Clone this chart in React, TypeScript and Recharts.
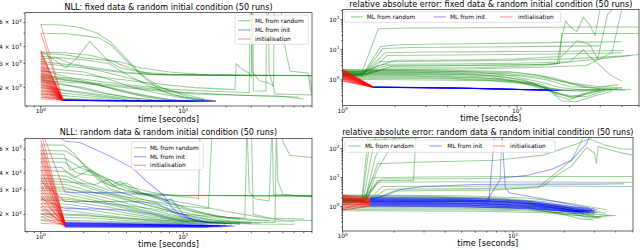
import React from 'react';
import { LineChart, Line, XAxis, YAxis } from 'recharts';

type Pt = [number, number];

const FONT = 'DejaVu Sans, Liberation Sans, sans-serif';

// ---------------- text ----------------
const titles = [
  'NLL: fixed data & random initial condition (50 runs)',
  'relative absolute error: fixed data & random initial condition (50 runs)',
  'NLL: random data & random initial condition (50 runs)',
  'relative absolute error: random data & random initial condition (50 runs)',
];
const xAxisLabel = 'time [seconds]';
const legendLabels = ['ML from random', 'ML from init', 'initialisation'];
const seriesColors = ['green', 'blue', 'red'];

// ---------------- ticks ----------------
const xTicksNLL = [0.8, 0.9, 1, 2, 3, 4, 5, 6, 7, 8, 9, 10, 20, 30, 40, 50, 60, 70, 80];
const xTicksErr = [1, 2, 3, 4, 5, 6, 7, 8, 9, 10, 20, 30, 40, 50];
const yTicksNLL = [2000, 3000, 4000, 5000, 6000, 7000];
const yTicksErr = [0.2, 0.3, 0.4, 0.5, 0.6, 0.7, 0.8, 0.9, 1, 2, 3, 4, 5, 6, 7, 8, 9, 10, 20, 30, 40, 50, 60, 70, 80, 90, 100, 200];
const majorTickValues = [1, 10, 100];
const xTickLabels: Record<string, [string, string]> = { '1': ['10', '0'], '10': ['10', '1'] };
const yTickLabelsNLL: Record<string, [string, string]> = {
  '2000': ['2 × 10', '3'], '3000': ['3 × 10', '3'], '4000': ['4 × 10', '3'], '6000': ['6 × 10', '3'],
};
const yTickLabelsErr: Record<string, [string, string]> = { '1': ['10', '0'], '10': ['10', '1'], '100': ['10', '2'] };

// ================= Panel 1: NLL, fixed data =================
const p1InitTime: Pt = [1, 1.43];
const p1InitStart = [5800, 5000, 3700, 3650, 3550, 3400, 3250, 3100, 3000, 2900, 2800, 2700, 2650, 2550, 2500, 2450, 2400, 2350, 2300, 2250, 2200, 2150, 2100, 2050, 2000, 1950, 1900, 1850, 1800, 1750, 1700, 1650];
const p1InitEnd = [1625, 1615, 1620, 1630, 1612, 1620, 1626, 1616, 1622, 1630, 1610, 1620, 1625, 1614, 1620, 1632, 1610, 1618, 1625, 1615, 1620, 1628, 1612, 1620, 1624, 1616, 1620, 1630, 1610, 1620, 1625, 1615];
const p1Green: Pt[][] = [
  [[1, 5800], [1.4, 5750], [1.9, 5500], [2.5, 5000], [3.1, 4300], [4.3, 3000], [5.5, 2300], [7, 1900], [10, 1700], [14, 1610]],
  [[1, 5000], [1.5, 4950], [2, 4800], [2.6, 4600], [3.1, 4100], [3.8, 3300], [5, 2500], [7, 2000], [11, 1700], [16, 1605]],
  [[1, 3700], [1.5, 2800], [1.8, 3300], [2.2, 4350], [2.5, 3800], [3, 3100], [3.6, 2800], [5, 2600], [8, 2500], [15, 2460], [80, 2450]],
  [[1, 3650], [1.5, 3600], [2.2, 3450], [3, 3200], [4.5, 2700], [6, 2500], [10, 2470], [30, 2450], [80, 2445]],
  [[1, 3550], [1.4, 3500], [2, 3300], [3.5, 3100], [5, 2800], [8, 2600], [13, 2500], [40, 2460]],
  [[1, 3400], [2, 3200], [3, 3000], [4, 2500], [5.5, 2100], [8, 1800], [12, 1650], [17, 1600]],
  [[1, 3250], [1.3, 3300], [1.6, 3000], [2.4, 2800], [3.8, 2600], [6, 2500], [12, 2470], [25, 2455]],
  [[1, 3100], [1.8, 2900], [2.8, 2600], [4.5, 2300], [7, 2000], [10, 1800], [14, 1650]],
  [[1, 3000], [1.6, 2850], [2.6, 2700], [4, 2550], [7, 2490], [20, 2460], [77, 2450], [80, 1900]],
  [[1, 2800], [2, 2600], [3, 2300], [4.5, 2000], [7, 1800], [11, 1650], [15, 1600]],
  [[1, 2700], [1.5, 2400], [2.2, 2200], [3.5, 1900], [5.5, 1700], [8, 1620]],
  [[1, 2550], [1.4, 2300], [2.5, 2100], [3.5, 1950], [5, 1780], [8, 1640], [12, 1600]],
  [[1, 2400], [1.6, 2300], [3, 2000], [4.5, 1800], [6.5, 1680], [9, 1610]],
  [[1, 2300], [1.5, 2100], [2.5, 1850], [4, 1700], [6, 1630]],
  [[1, 2200], [2, 2000], [3, 1800], [4.5, 1680], [7, 1610]],
  [[1, 2100], [1.5, 1900], [2.5, 1750], [4, 1640]],
  [[1, 2000], [2, 1850], [3.5, 1700], [5, 1630]],
  [[1, 1900], [1.8, 1780], [3, 1680], [4.5, 1610]],
  [[1, 1800], [2, 1700], [3.5, 1620]],
  [[1, 1700], [2.2, 1640], [3.5, 1600]],
  [[1, 2650], [1.6, 2550], [3, 2350], [6, 2150], [12, 2000], [20, 1950], [23, 1940], [23.5, 3000], [25, 2800], [29, 2550], [30, 2400], [30.2, 8000], [30.8, 8000], [31, 1900], [38, 1880], [38.5, 9000], [39.5, 9000], [40, 2600], [43, 2000], [44, 1800], [60, 1780], [80, 1770]],
  [[1, 2450], [2, 2300], [4, 2100], [8, 1950], [15, 1880], [25, 1850], [29, 1840], [29.5, 9000], [30, 9000], [30.5, 2600], [34, 2250], [40, 2150], [43, 2050], [43.5, 9000], [48, 9000], [50, 5000], [53, 3500], [56, 2650], [75, 2550], [78, 1900], [80, 1800]],
  [[1, 2350], [2, 2200], [5, 2000], [10, 1850], [20, 1780], [35, 1740], [50, 1720], [70, 1650]],
  [[1, 2250], [2, 2150], [5, 1950], [12, 1800], [25, 1760], [45, 1740], [65, 1700]],
];
const p1Blue: Pt[][] = [
  [[1.43, 1620], [3, 1605], [6, 1598], [10, 1595], [17, 1592]],
  [[1.45, 1615], [2.5, 1605], [5, 1600], [9, 1596]],
  [[1.42, 1625], [4, 1604], [8, 1597], [14, 1594]],
  [[1.44, 1618], [3, 1608], [6, 1600]],
  [[1.46, 1612], [5, 1598], [12, 1593], [16, 1592]],
  [[1.43, 1622], [2, 1612], [4, 1602], [7, 1597], [11, 1594]],
  [[1.44, 1616], [3.5, 1603], [7, 1598], [13, 1594]],
  [[1.42, 1628], [2.5, 1610], [5, 1601], [10, 1596], [15, 1593]],
  [[1.45, 1620], [4, 1602], [9, 1596], [17, 1592]],
  [[1.43, 1618], [3, 1606], [6.5, 1599], [12, 1594]],
  [[1.46, 1614], [2.2, 1608], [4.5, 1601], [8, 1597]],
];

// ================= Panel 2: rel. error, fixed data =================
const p2InitTime: Pt = [1, 1.5];
const p2InitStart = [2.3, 2.2, 2.1, 2.05, 2.0, 1.9, 1.85, 1.8, 1.7, 1.65, 1.6, 1.55, 1.5, 1.45, 1.4, 1.35, 1.3, 1.25, 1.2, 1.15, 1.1, 1.05, 1.0, 0.95, 0.9];
const p2InitEnd = [0.58, 0.57, 0.575, 0.57, 0.58, 0.565, 0.57, 0.575, 0.57, 0.58, 0.57, 0.565, 0.57, 0.575, 0.58, 0.57, 0.565, 0.57, 0.575, 0.57, 0.58, 0.57, 0.565, 0.57, 0.575];
const p2Green: Pt[][] = [
  [[1, 1.6], [1.28, 1.6], [1.6, 50], [2.5, 53], [6, 54], [15, 56], [25, 57], [50, 57]],
  [[1, 1.5], [1.3, 1.5], [1.65, 13], [2.2, 15], [5, 16], [12, 17], [20, 18], [40, 18.5]],
  [[1, 1.4], [1.3, 1.45], [1.7, 11], [2.5, 12], [6, 12.5], [15, 13], [30, 13.5]],
  [[1, 1.7], [1.32, 1.7], [1.75, 8], [3, 8.5], [8, 8.7], [20, 9], [41, 9.5]],
  [[1, 1.3], [1.35, 1.35], [1.8, 6.5], [4, 6.7], [10, 7], [25, 7.5], [40, 8]],
  [[1, 1.5], [1.3, 1.5], [1.6, 4], [3, 4.2], [8, 4.4], [20, 5], [45, 6.5]],
  [[1, 1.8], [1.3, 1.8], [1.7, 3.3], [4, 3.4], [10, 3.6], [20, 4], [30, 5], [50, 7]],
  [[1, 1.6], [1.35, 1.6], [1.9, 2.8], [5, 3], [12, 3.2], [17, 3.5], [18, 25], [19, 90], [20, 60], [22, 40], [24, 120], [26, 70], [28, 30], [30, 250], [32, 250]],
  [[1, 1.7], [1.3, 1.7], [1.8, 3], [5, 3.1], [15, 3.3], [17.5, 3.5], [18, 35], [30, 35], [50, 35]],
  [[1, 1.5], [1.3, 1.5], [1.8, 2.5], [6, 2.6], [14, 3], [20, 4], [24, 10], [26, 6], [30, 3], [34, 1.5], [40, 0.9]],
  [[1, 1.9], [1.3, 1.9], [2, 4.5], [5, 4.6], [10, 5], [18, 6], [22, 20], [26, 15], [29, 5], [33, 150], [36, 250]],
  [[1, 1.4], [1.3, 1.4], [1.7, 2.2], [5, 2.3], [12, 2.6], [25, 3], [35, 8], [40, 250]],
  [[1, 2.1], [3, 2.0], [6, 1.8], [9, 1.4], [13, 0.9], [18, 0.55], [25, 0.45], [35, 0.48]],
  [[1, 1.9], [2.5, 1.8], [5, 1.65], [9, 1.2], [14, 0.7], [17, 0.3], [20, 0.22], [24, 0.35], [30, 0.5]],
  [[1, 1.7], [3, 1.6], [7, 1.4], [11, 1.0], [15, 0.5], [18, 0.2], [22, 0.19], [28, 0.3], [35, 0.42]],
  [[1, 1.55], [3, 1.5], [7, 1.25], [12, 0.8], [16, 0.4], [20, 0.28], [26, 0.35], [32, 0.5]],
  [[1, 1.45], [2.5, 1.4], [6, 1.2], [10, 0.9], [14, 0.55], [18, 0.45], [26, 0.48], [38, 0.52]],
  [[1, 1.35], [3, 1.3], [8, 1.1], [13, 0.7], [17, 0.35], [21, 0.25], [27, 0.4], [40, 0.5]],
  [[1, 1.25], [3, 1.2], [8, 1.0], [12, 0.75], [16, 0.5], [22, 0.42], [30, 0.45]],
  [[1, 1.15], [4, 1.1], [9, 0.9], [14, 0.6], [19, 0.45], [28, 0.5], [45, 0.48]],
  [[1, 1.05], [3, 1.0], [7, 0.95], [11, 0.75], [15, 0.45], [20, 0.3], [25, 0.28], [32, 0.45]],
  [[1, 1.6], [4, 1.55], [10, 1.4], [15, 1.0], [20, 0.6], [28, 0.55], [38, 0.7]],
  [[1, 1.8], [4, 1.75], [9, 1.6], [14, 1.2], [20, 0.8], [30, 0.6], [40, 0.55]],
  [[1, 2.2], [4, 2.1], [9, 1.9], [13, 1.5], [18, 0.9], [25, 0.55]],
  [[1, 2.0], [5, 1.9], [10, 1.7], [16, 1.2], [22, 0.7], [30, 0.5], [42, 0.45]],
];
const p2Blue: Pt[][] = [
  [[1.5, 0.58], [3, 0.55], [6, 0.52], [10, 0.48], [17.6, 0.45]],
  [[1.5, 0.57], [4, 0.54], [8, 0.5], [14, 0.46]],
  [[1.5, 0.575], [5, 0.53], [12, 0.47], [16, 0.455]],
  [[1.5, 0.58], [2.5, 0.565], [5, 0.53], [9, 0.49], [15, 0.46]],
  [[1.5, 0.57], [3.5, 0.55], [7, 0.51], [12, 0.475], [17, 0.45]],
  [[1.5, 0.585], [3, 0.56], [6, 0.525], [11, 0.48], [16, 0.46]],
  [[1.5, 0.575], [4.5, 0.54], [9, 0.495], [13, 0.47]],
  [[1.5, 0.58], [2.2, 0.57], [5.5, 0.53], [10, 0.485], [17, 0.455]],
  [[1.5, 0.57], [3, 0.555], [7.5, 0.505], [14, 0.465], [18, 0.45]],
  [[1.5, 0.565], [4, 0.545], [8.5, 0.5], [15, 0.46]],
];

// ================= Panel 3: NLL, random data =================
const p3InitTime: Pt = [1, 1.48];
const p3InitStart = [9000, 8000, 6980, 6410, 5870, 5550, 5140, 4840, 4450, 4200, 3870, 3660, 3360, 3180, 3000, 2840, 2690, 2540, 2400, 2270, 2150, 2030, 1920, 1815, 1715, 8500, 3500, 2600];
const p3InitEnd = [6840, 1700, 1690, 1740, 1700, 1650, 1710, 1680, 1620, 1700, 1690, 1660, 1720, 1690, 1710, 1640, 1690, 1700, 1610, 1680, 1730, 1690, 1660, 1680, 1690, 2900, 2480, 2200];
const p3Green: Pt[][] = [
  [[1, 6410], [1.45, 6400], [1.7, 5600], [2, 4600], [2.4, 3900], [3, 3300], [4, 2950], [6, 2780], [10, 2740], [30, 2730], [80, 2720]],
  [[1, 5870], [1.5, 5800], [1.8, 5100], [2.2, 4300], [2.8, 3600], [3.5, 3100], [5, 2850], [9, 2760], [25, 2740], [80, 2730]],
  [[1, 5550], [1.45, 5500], [1.6, 4200], [2, 4500], [2.6, 3500], [3.2, 3200], [4, 3400], [5, 2900], [8, 2400], [12, 2100], [20, 1900], [40, 1800]],
  [[1, 5140], [1.48, 5100], [1.9, 4400], [2.3, 4000], [2.8, 3700], [3.2, 3300], [3.6, 3500], [4.5, 3000], [7, 2600], [11, 2200], [18, 1900], [30, 1800], [60, 1780]],
  [[1, 4840], [1.48, 4800], [1.8, 4000], [2.5, 3800], [3, 3100], [5, 2600], [8, 2300], [14, 2000], [25, 1850]],
  [[1, 4450], [1.4, 4400], [1.7, 3700], [2.2, 4200], [2.7, 3800], [3.5, 3300], [5, 2800], [7, 2600], [12, 2350], [20, 2100], [35, 1900], [50, 1820], [80, 1800]],
  [[1, 4200], [1.5, 4100], [2, 3500], [3, 3000], [4, 2800], [6, 2760], [15, 2740], [50, 2720], [80, 2715]],
  [[1, 3870], [1.5, 3800], [2, 3300], [3, 2900], [5, 2500], [8, 2200], [13, 1950], [20, 1800], [30, 1750]],
  [[1, 3660], [1.5, 3600], [2.2, 3100], [3.5, 2700], [6, 2300], [10, 2000], [16, 1820], [25, 1740]],
  [[1, 3360], [1.5, 3300], [2.5, 2850], [4, 2550], [7, 2200], [12, 1900], [20, 1760], [35, 1720]],
  [[1, 3180], [1.48, 3150], [2.2, 2800], [3.5, 2500], [6, 2150], [10, 1900], [16, 1780], [30, 1710]],
  [[1, 3000], [1.5, 2950], [2.5, 2600], [4, 2300], [7, 2000], [12, 1800], [20, 1720]],
  [[1, 2840], [1.5, 2800], [2.5, 2500], [4.5, 2200], [8, 1900], [14, 1760], [25, 1700]],
  [[1, 2690], [1.5, 2650], [3, 2350], [5, 2100], [9, 1850], [15, 1740], [30, 1700], [60, 1690]],
  [[1, 2540], [1.5, 2500], [3, 2250], [6, 1950], [10, 1800], [18, 1720]],
  [[1, 2400], [1.5, 2380], [3, 2150], [6, 1900], [12, 1760], [25, 1700]],
  [[1, 2270], [1.6, 2250], [3.5, 2000], [7, 1820], [13, 1730], [20, 1700]],
  [[1, 2150], [1.5, 2130], [3, 1950], [6, 1800], [12, 1720]],
  [[1, 2030], [2, 1990], [4, 1850], [8, 1750], [15, 1700]],
  [[1, 1920], [2, 1890], [4, 1800], [8, 1730], [14, 1690]],
  [[1, 1815], [2.5, 1790], [5, 1740], [10, 1700]],
  [[1, 3500], [1.5, 3450], [2.4, 3300], [3, 3600], [4, 3200], [6, 2900], [9, 2700], [12, 2650], [12.8, 2600], [13.1, 9000], [48, 9000], [50, 6800], [56, 5400], [80, 5200]],
  [[1, 3100], [1.5, 3050], [3, 2800], [6, 2500], [10, 2300], [15, 2200], [16, 9000], [30, 9000], [31, 2000], [40, 1880], [70, 1850]],
  [[1, 2600], [1.5, 2580], [3, 2400], [6, 2200], [10, 2000], [20, 1900], [27, 1880], [28, 9000], [29, 2900], [32, 2600], [40, 2500], [42, 9000], [43, 2800], [80, 2700]],
  [[1, 2000], [2, 1950], [5, 1850], [10, 1780], [20, 1750], [44, 1740], [45, 9000], [46, 3500], [50, 2800], [60, 2750], [80, 2720]],
];
const p3Blue: Pt[][] = [
  [[1.48, 6840], [1.9, 6660], [3.06, 5320], [4.44, 4330], [5.5, 3500], [7.2, 2780], [8.4, 2220], [9.5, 2000], [11, 1870], [15, 1760], [22, 1700]],
  [[1.48, 2900], [2.5, 2880], [4, 2870], [5.5, 2800], [7, 2650], [7.5, 2500], [8.2, 2600], [9, 2300], [10, 2000], [12, 1800], [16, 1720]],
  [[1.48, 2480], [3, 2480], [5, 2470], [6.5, 2400], [8, 2150], [9.5, 1950], [11, 1850], [14, 1760]],
  [[1.48, 2200], [2.5, 2190], [4, 2150], [6, 2000], [8, 1850], [11, 1760]],
  [[1.48, 1740], [4, 1700], [8, 1670], [14, 1655], [22, 1650]],
  [[1.48, 1720], [5, 1690], [10, 1665], [18, 1652]],
  [[1.48, 1700], [3, 1685], [7, 1668], [12, 1658], [20, 1648]],
  [[1.48, 1680], [4, 1666], [9, 1655], [16, 1645]],
  [[1.48, 1660], [6, 1648], [13, 1640], [21, 1636]],
  [[1.48, 1640], [3, 1636], [6, 1632], [10, 1628], [16, 1625]],
  [[1.48, 1620], [5, 1618], [11, 1616], [19, 1615]],
  [[1.48, 1690], [3, 1680], [6, 1665], [10, 1655], [16, 1648]],
  [[1.48, 1730], [3, 1710], [7, 1680], [13, 1660], [20, 1650]],
  [[1.48, 1710], [4, 1690], [9, 1668], [17, 1655]],
  [[1.48, 1670], [3.5, 1660], [8, 1650], [15, 1642], [23, 1640]],
  [[1.48, 1650], [5, 1642], [10, 1636], [18, 1632]],
  [[1.48, 1630], [4, 1626], [9, 1622], [14, 1620]],
  [[1.48, 1610], [3, 1609], [8, 1607], [15, 1606]],
  [[1.48, 1760], [3, 1740], [6, 1710], [11, 1680], [18, 1660]],
];

// ================= Panel 4: rel. error, random data =================
const p4InitTime: Pt = [1, 1.45];
const p4InitStart = [2.5, 2.4, 2.3, 2.2, 2.1, 2.0, 1.9, 1.8, 1.75, 1.7, 1.6, 1.5, 1.4, 1.3, 1.2, 1.1, 1.0, 0.9, 0.8, 0.75, 2.0, 1.2, 0.85, 2.3];
const p4InitEnd = [2.1, 2.0, 1.9, 1.85, 1.75, 1.7, 1.6, 1.55, 1.5, 1.45, 1.4, 1.35, 1.3, 1.25, 1.2, 1.15, 1.1, 1.05, 1.0, 1.1, 1.2, 1.8, 1.5, 1.3];
const p4Green: Pt[][] = [
  [[1, 1.9], [1.3, 1.9], [1.42, 400]],
  [[1, 1.7], [1.32, 1.7], [1.5, 100], [1.6, 400]],
  [[1, 1.6], [1.35, 1.65], [1.55, 50], [1.7, 150], [1.9, 400]],
  [[1, 1.8], [1.3, 1.8], [1.45, 200], [2, 220], [2.8, 240], [3, 400]],
  [[1, 1.5], [1.38, 1.5], [1.6, 20], [1.8, 60], [2.1, 400]],
  [[1, 1.75], [1.33, 1.75], [1.5, 10], [3, 10.5], [10, 11], [25, 11], [50, 11]],
  [[1, 1.55], [1.36, 1.6], [1.6, 7], [4, 7.2], [12, 7.1], [30, 7], [50, 7]],
  [[1, 1.45], [1.4, 1.5], [1.7, 5], [5, 5.1], [15, 5.2], [35, 5], [50, 5]],
  [[1, 1.65], [1.35, 1.7], [1.6, 8], [2.6, 8], [2.7, 400]],
  [[1, 1.85], [1.3, 1.85], [1.7, 9], [5, 9.2], [8.4, 9.5], [8.6, 400]],
  [[1, 1.4], [1.4, 1.45], [2, 3.5], [8, 3.8], [15, 5], [18, 12], [22, 25], [27, 110], [30, 70], [30.8, 30], [31.5, 120], [40, 80], [50, 60]],
  [[1, 1.5], [1.4, 1.5], [1.8, 4], [6, 4.2], [14, 4.5], [22, 40], [27, 400]],
  [[1, 1.6], [1.35, 1.6], [1.6, 30], [3, 35], [8, 40], [15, 60], [24, 150], [28, 220], [35, 130], [43, 100], [50, 95]],
  [[1, 2.4], [3, 2.3], [8, 2.0], [15, 1.5], [22, 1.0], [30, 0.85]],
  [[1, 2.2], [3, 2.15], [8, 1.9], [14, 1.4], [22, 0.9], [32, 0.7]],
  [[1, 2.0], [4, 1.95], [10, 1.6], [17, 1.1], [25, 0.75], [35, 0.6]],
  [[1, 1.8], [4, 1.75], [10, 1.45], [18, 0.95], [26, 0.6], [38, 0.5]],
  [[1, 1.6], [5, 1.55], [12, 1.25], [20, 0.8], [30, 0.45], [36, 0.5]],
  [[1, 1.4], [5, 1.35], [12, 1.1], [20, 0.7], [28, 0.4], [33, 0.42]],
  [[1, 1.2], [5, 1.15], [12, 0.95], [18, 0.6], [25, 0.38], [30, 0.35]],
  [[1, 1.05], [5, 1.0], [12, 0.85], [20, 0.55], [30, 0.45], [40, 0.5]],
  [[1, 0.9], [5, 0.88], [12, 0.78], [20, 0.6], [30, 0.55]],
  [[1, 0.8], [6, 0.78], [14, 0.7], [22, 0.6], [30, 0.5]],
  [[1, 0.72], [6, 0.7], [15, 0.62], [24, 0.5], [32, 0.42]],
  [[1, 2.5], [5, 2.4], [12, 2.0], [20, 1.4], [28, 1.0], [35, 0.8]],
];
const p4Blue: Pt[][] = [
  [[1.45, 2.1], [5, 2.0], [12, 1.6], [20, 1.1], [28, 0.85], [31, 0.8]],
  [[1.45, 1.9], [5, 1.8], [12, 1.45], [20, 1.0], [29, 0.75]],
  [[1.45, 1.75], [6, 1.65], [13, 1.3], [21, 0.9], [30, 0.7]],
  [[1.45, 1.6], [6, 1.5], [13, 1.2], [20, 0.85], [27, 0.65]],
  [[1.45, 1.45], [6, 1.35], [13, 1.1], [22, 0.8], [31, 0.62]],
  [[1.45, 1.3], [6, 1.25], [14, 1.0], [22, 0.75], [28, 0.6]],
  [[1.45, 1.2], [5, 1.15], [12, 0.95], [20, 0.7], [26, 0.58]],
  [[1.45, 1.1], [5, 1.05], [12, 0.9], [18, 0.72], [25, 0.65]],
  [[1.45, 1.0], [5, 0.98], [12, 0.85], [20, 0.7], [30, 0.75]],
  [[1.45, 2.0], [6, 1.9], [13, 1.5], [21, 1.0], [29, 0.8]],
  [[1.45, 1.85], [5, 1.75], [12, 1.4], [19, 1.0], [27, 0.72]],
  [[1.45, 1.7], [6, 1.6], [14, 1.25], [22, 0.85], [30, 0.68]],
  [[1.45, 1.5], [5, 1.45], [12, 1.18], [20, 0.85], [28, 0.62]],
  [[1.45, 1.4], [6, 1.3], [13, 1.05], [21, 0.78], [30, 0.6]],
  [[1.45, 1.25], [5, 1.2], [12, 1.0], [19, 0.75], [26, 0.62]],
  [[1.45, 1.15], [6, 1.1], [14, 0.92], [22, 0.72], [29, 0.66]],
  [[1.45, 1.05], [5, 1.02], [12, 0.88], [20, 0.72], [28, 0.7]],
  [[1.45, 1.65], [5, 1.58], [11, 1.35], [18, 0.95], [24, 0.7]],
  [[1.45, 1.35], [4, 1.32], [10, 1.15], [17, 0.88], [25, 0.66]],
  [[1.45, 1.55], [5, 1.5], [7.2, 1.45], [7.8, 400], [8.6, 400], [9, 4.3], [9.5, 3], [14, 2], [20, 1.3], [28, 0.9]],
  [[1.45, 1.8], [1.8, 2.5], [2.2, 4], [3, 5], [6, 5.8], [15, 6], [30, 6], [45, 6.2]],
  [[1.45, 1.5], [4, 1.5], [7, 1.6], [8.5, 9.5], [12, 12], [17, 20], [22, 40], [27, 150], [29, 400]],
];

// ---------------- helpers ----------------
const buildInit = (time: Pt, start: number[], end: number[]): Pt[][] =>
  start.map((s, i) => [[time[0], s], [time[1], end[i]]] as Pt[]);

type Box = { l: number; t: number; r: number; b: number };
type LegendItem = { lx: number; ly: number; tx: number };
type PanelCfg = {
  box: Box;
  xDomain: [number, number];
  yDomain: [number, number];
  xTicks: number[];
  yTicks: number[];
  yLabels: Record<string, [string, string]>;
  green: Pt[][];
  blue: Pt[][];
  red: Pt[][];
  title: string;
  titleY: number;
  titleSize: number;
  xlabelY: number;
  legendBox: { x: number; y: number; w: number; h: number };
  legendItems: LegendItem[];
};

const panels: PanelCfg[] = [
  {
    box: { l: 25, t: 12.7, r: 312, b: 106 },
    xDomain: [0.775, 80], yDomain: [1468, 7063],
    xTicks: xTicksNLL, yTicks: yTicksNLL, yLabels: yTickLabelsNLL,
    green: p1Green, blue: p1Blue, red: buildInit(p1InitTime, p1InitStart, p1InitEnd),
    title: titles[0], titleY: 9.5, titleSize: 8.1, xlabelY: 121.5,
    legendBox: { x: 235, y: 15, w: 73.3, h: 29.3 },
    legendItems: [{ lx: 238, ly: 20.7, tx: 255 }, { lx: 238, ly: 30, tx: 255 }, { lx: 238, ly: 39, tx: 255 }],
  },
  {
    box: { l: 342.7, t: 9.3, r: 639, b: 105.7 },
    xDomain: [1, 50], yDomain: [0.14, 221],
    xTicks: xTicksErr, yTicks: yTicksErr, yLabels: yTickLabelsErr,
    green: p2Green, blue: p2Blue, red: buildInit(p2InitTime, p2InitStart, p2InitEnd),
    title: titles[1], titleY: 7, titleSize: 8.1, xlabelY: 121,
    legendBox: { x: 344, y: 11.7, w: 216.7, h: 10.6 },
    legendItems: [{ lx: 350.7, ly: 16.9, tx: 366.7 }, { lx: 433.3, ly: 16.9, tx: 450 }, { lx: 500, ly: 16.9, tx: 518 }],
  },
  {
    box: { l: 25, t: 138.3, r: 312, b: 231.7 },
    xDomain: [0.775, 80], yDomain: [1493, 7180],
    xTicks: xTicksNLL, yTicks: yTicksNLL, yLabels: yTickLabelsNLL,
    green: p3Green, blue: p3Blue, red: buildInit(p3InitTime, p3InitStart, p3InitEnd),
    title: titles[2], titleY: 134.8, titleSize: 8.0, xlabelY: 246.5,
    legendBox: { x: 131.7, y: 141.7, w: 71.6, h: 28.3 },
    legendItems: [{ lx: 134, ly: 147.7, tx: 150 }, { lx: 134, ly: 156.7, tx: 150 }, { lx: 134, ly: 165.3, tx: 150 }],
  },
  {
    box: { l: 342.7, t: 137.5, r: 633, b: 231 },
    xDomain: [1, 50.5], yDomain: [0.145, 243],
    xTicks: xTicksErr, yTicks: yTicksErr, yLabels: yTickLabelsErr,
    green: p4Green, blue: p4Blue, red: buildInit(p4InitTime, p4InitStart, p4InitEnd),
    title: titles[3], titleY: 135.3, titleSize: 8.0, xlabelY: 246,
    legendBox: { x: 345, y: 140, w: 210, h: 12.3 },
    legendItems: [{ lx: 348.3, ly: 146, tx: 365 }, { lx: 429.3, ly: 146, tx: 447.3 }, { lx: 492.7, ly: 146, tx: 510 }],
  },
];

// ---------------- ticks ----------------
const TICK_FS = 5.9;
const SUP_FS = 4.2;

const makeXTick = () => (props: any) => {
  const { x, y, payload } = props;
  const v = payload.value;
  const major = majorTickValues.includes(v);
  const lab = xTickLabels[String(v)];
  return (
    <g>
      <line x1={x} x2={x} y1={y} y2={y + (major ? 2.5 : 1.5)} stroke="#000" strokeWidth={0.6} />
      {lab && (
        <text x={x} y={y + 7.3} textAnchor="middle" fontSize={TICK_FS} fontFamily={FONT} fill="#000">
          {lab[0]}
          <tspan dy={-2.6} fontSize={SUP_FS}>{lab[1]}</tspan>
        </text>
      )}
    </g>
  );
};

const makeYTick = (labels: Record<string, [string, string]>) => (props: any) => {
  const { x, y, payload } = props;
  const v = payload.value;
  const major = majorTickValues.includes(v);
  const lab = labels[String(v)];
  return (
    <g>
      <line x1={x - (major ? 2.5 : 1.5)} x2={x} y1={y} y2={y} stroke="#000" strokeWidth={0.6} />
      {lab && (
        <text x={x - 3.4} y={y + 2.1} textAnchor="end" fontSize={TICK_FS} fontFamily={FONT} fill="#000">
          {lab[0]}
          <tspan dy={-2.6} fontSize={SUP_FS}>{lab[1]}</tspan>
        </text>
      )}
    </g>
  );
};

const toRows = (run: Pt[]) => run.map(([t, v]) => ({ t, v }));

function Panel({ cfg }: { cfg: PanelCfg }) {
  const { box } = cfg;
  const groups: [Pt[][], string][] = [
    [cfg.green, seriesColors[0]],
    [cfg.blue, seriesColors[1]],
    [cfg.red, seriesColors[2]],
  ];
  return (
    <div style={{ position: 'absolute', left: 0, top: 0 }}>
      <LineChart
        width={640}
        height={250}
        margin={{ top: box.t, left: box.l - 1, right: 640 - box.r, bottom: 250 - box.b - 1 }}
      >
        <XAxis
          type="number"
          dataKey="t"
          scale="log"
          domain={cfg.xDomain}
          allowDataOverflow
          ticks={cfg.xTicks}
          interval={0}
          height={1}
          tickSize={0}
          tickMargin={0}
          axisLine={false}
          tickLine={false}
          tick={makeXTick()}
        />
        <YAxis
          type="number"
          dataKey="v"
          scale="log"
          domain={cfg.yDomain}
          allowDataOverflow
          ticks={cfg.yTicks}
          interval={0}
          width={1}
          tickSize={0}
          tickMargin={0}
          axisLine={false}
          tickLine={false}
          tick={makeYTick(cfg.yLabels)}
        />
        {groups.map(([runs, color], gi) =>
          runs.map((run, i) => (
            <Line
              key={`${gi}-${i}`}
              data={toRows(run)}
              dataKey="v"
              type="linear"
              stroke={color}
              strokeOpacity={0.38}
              strokeWidth={1.05}
              dot={false}
              activeDot={false}
              legendType="none"
              isAnimationActive={false}
            />
          ))
        )}
      </LineChart>
    </div>
  );
}

function Decorations({ cfg }: { cfg: PanelCfg }) {
  const { box, legendBox } = cfg;
  const cx = (box.l + box.r) / 2;
  return (
    <g fontFamily={FONT}>
      <rect x={box.l} y={box.t} width={box.r - box.l} height={box.b - box.t} fill="none" stroke="#000" strokeWidth={0.6} />
      <text x={cx} y={cfg.titleY} textAnchor="middle" fontSize={cfg.titleSize} fill="#000">{cfg.title}</text>
      <text x={cx} y={cfg.xlabelY} textAnchor="middle" fontSize={8.2} fill="#000">{xAxisLabel}</text>
      <rect x={legendBox.x} y={legendBox.y} width={legendBox.w} height={legendBox.h} rx={1.5} fill="#fff" fillOpacity={0.8} stroke="#cccccc" strokeWidth={0.6} />
      {cfg.legendItems.map((it, i) => (
        <g key={i}>
          <line x1={it.lx} x2={it.lx + 12.5} y1={it.ly} y2={it.ly} stroke={seriesColors[i]} strokeOpacity={0.35} strokeWidth={1.3} />
          <text x={it.tx} y={it.ly + 2.1} fontSize={5.9} fill="#000">{legendLabels[i]}</text>
        </g>
      ))}
    </g>
  );
}

export default function App() {
  return (
    <div style={{ position: 'fixed', left: 0, top: 0, width: 640, height: 250, background: '#fff', overflow: 'hidden' }}>
      {panels.map((p, i) => (
        <Panel key={i} cfg={p} />
      ))}
      <svg width={640} height={250} style={{ position: 'absolute', left: 0, top: 0, pointerEvents: 'none' }}>
        {panels.map((p, i) => (
          <Decorations key={i} cfg={p} />
        ))}
      </svg>
    </div>
  );
}
